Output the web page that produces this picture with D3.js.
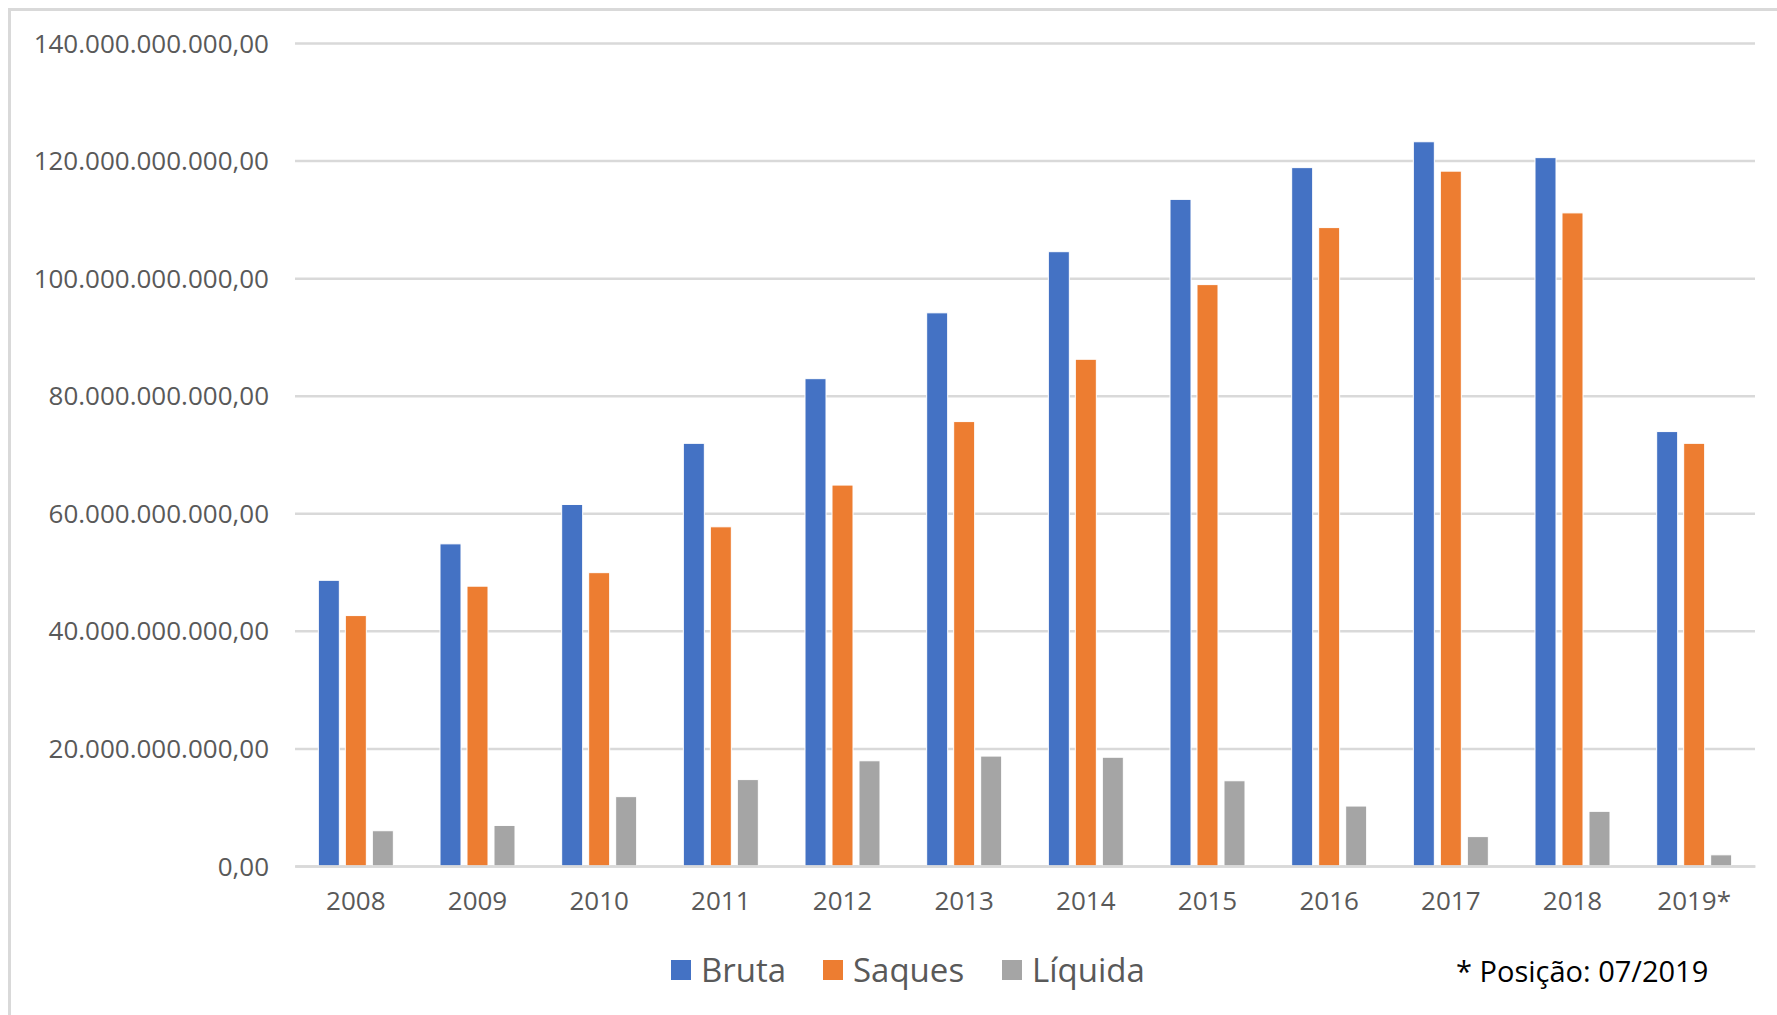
<!DOCTYPE html>
<html><head><meta charset="utf-8">
<script src="https://cdn.jsdelivr.net/npm/d3@7"></script>
<style>html,body{margin:0;padding:0;background:#fff;}svg{display:block;}</style>
</head><body>
<script>
const categories = ["2008","2009","2010","2011","2012","2013","2014","2015","2016","2017","2018","2019*"];
const seriesNames = ["Bruta","Saques","Líquida"];
const bruta   = [48.6e9, 54.8e9, 61.5e9, 71.9e9, 82.9e9, 94.1e9, 104.5e9, 113.4e9, 118.8e9, 123.2e9, 120.5e9, 73.9e9];
const saques  = [42.6e9, 47.6e9, 49.9e9, 57.7e9, 64.8e9, 75.6e9, 86.2e9, 98.9e9, 108.6e9, 118.2e9, 111.1e9, 71.9e9];
const liquida = [6.0e9, 6.9e9, 11.8e9, 14.7e9, 17.9e9, 18.7e9, 18.5e9, 14.5e9, 10.2e9, 5.0e9, 9.3e9, 1.9e9];
const yTicks = [0, 20e9, 40e9, 60e9, 80e9, 100e9, 120e9, 140e9];
const colors = ["#4472C4", "#ED7D31", "#A5A5A5"];
const footnote = "* Posição: 07/2019";

(function () {
const W = 1777, H = 1015;
const svg = d3.select("body").append("svg").attr("width", W).attr("height", H);
svg.append("rect").attr("width", W).attr("height", H).attr("fill", "#fff");
svg.append("rect").attr("x", 9.5).attr("y", 9.5).attr("width", W + 50).attr("height", H + 50)
  .attr("fill", "none").attr("stroke", "#D9D9D9").attr("stroke-width", 3);

const pL = 295, pR = 1755, pT = 43, pB = 866;
const y = d3.scaleLinear().domain([0, 140e9]).range([pB, pT]);
const x = d3.scaleBand().domain(categories).range([pL, pR]).padding(0);
const x1 = d3.scaleBand().domain(seriesNames).range([-37.5, 37.5]).paddingInner(0.222).paddingOuter(0);

const fmt = v => {
  const s = d3.format(",.2f")(v);
  return s.replace(/,/g, "#").replace(".", ",").replace(/#/g, ".");
};

const font = "'Open Sans', 'Noto Sans', sans-serif";

// grid
const yAxis = d3.axisLeft(y).tickValues(yTicks).tickFormat(fmt).tickSize(-(pR - pL)).tickPadding(26);
const gy = svg.append("g").attr("transform", `translate(${pL},0)`).call(yAxis);
gy.select(".domain").remove();
gy.selectAll(".tick line").attr("stroke", "#D9D9D9").attr("stroke-width", 2.5);
gy.selectAll(".tick text").attr("fill", "#595959").attr("font-family", font).attr("font-size", 26).attr("dy", "0.35em");

// bars
const data = [bruta, saques, liquida];
const groups = svg.append("g").selectAll("g").data(categories).join("g")
  .attr("transform", c => `translate(${x(c) + x.bandwidth() / 2},0)`);
groups.selectAll("rect").data((c, i) => seriesNames.map((s, j) => ({s, v: data[j][i], j})))
  .join("rect")
  .attr("x", d => x1(d.s))
  .attr("width", x1.bandwidth())
  .attr("y", d => y(d.v))
  .attr("height", d => y(0) - y(d.v))
  .attr("fill", d => colors[d.j])
  .attr("stroke", "#fff").attr("stroke-width", 1);

// x axis
const xAxis = d3.axisBottom(x).tickSize(0).tickPadding(26);
const gx = svg.append("g").attr("transform", `translate(0,${pB})`).call(xAxis);
gx.select(".domain").attr("stroke", "#D9D9D9").attr("stroke-width", 2.5);
gx.selectAll(".tick text").attr("fill", "#595959").attr("font-family", font).attr("font-size", 26);

// legend
const legendX = [671, 823, 1002];
const lg = svg.append("g");
seriesNames.forEach((s, i) => {
  lg.append("rect").attr("x", legendX[i]).attr("y", 960).attr("width", 20).attr("height", 20).attr("fill", colors[i]);
  lg.append("text").attr("x", legendX[i] + 30).attr("y", 982).text(s)
    .attr("fill", "#595959").attr("font-family", font).attr("font-size", 33);
});

svg.append("text").attr("x", 1456).attr("y", 982).text(footnote)
  .attr("fill", "#000").attr("font-family", font).attr("font-size", 29);
})();
</script>
</body></html>
